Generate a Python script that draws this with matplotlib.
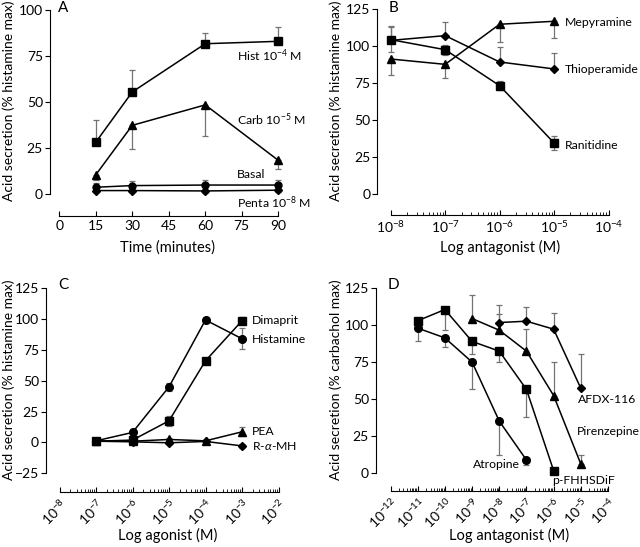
import numpy as np
import matplotlib
matplotlib.use("Agg")
import matplotlib.pyplot as plt
from matplotlib.ticker import LogLocator, NullFormatter

plt.rcParams['font.family'] = ['Lato', 'DejaVu Sans']
plt.rcParams['mathtext.fontset'] = 'custom'
plt.rcParams['mathtext.rm'] = 'Lato'
plt.rcParams['mathtext.it'] = 'Lato:italic'
plt.rcParams['font.size'] = 10

# ---- panel A: time course ----
time_min = [15, 30, 60, 90]
hist = [28.2, 55.5, 81.7, 83.0]
hist_err = [12, 12, 5.6, 7.6]
carb = [10.5, 37.4, 48.5, 18.4]
carb_err = [2.7, 13, 17, 4.5]
basal = [3.8, 4.7, 5.0, 5.0]
basal_err = [2.5, 2.5, 2.5, 2.5]
penta = [2.0, 2.0, 1.8, 2.2]
penta_err = [1, 1, 1, 1]

# ---- panel B: histamine + antagonists ----
conc_b = [1e-8, 1e-7, 1e-6, 1e-5]
mepyramine = [91.4, 87.8, 114.9, 116.9]
mepyramine_err = [10.8, 9.2, 12, 11.3]
thioperamide = [104.0, 107.2, 89.4, 84.7]
thioperamide_err = [10, 9, 10, 11]
ranitidine = [104.5, 97.7, 73.4, 34.7]
ranitidine_err = [8.6, 3.5, 3, 4.5]

# ---- panel C: agonists ----
conc_c = [1e-7, 1e-6, 1e-5, 1e-4, 1e-3]
histamine = [1.3, 8.1, 45.1, 99.3, 84.1]
histamine_err = [1, 3, 3, 1, 8.3]
dimaprit = [1.0, 1.9, 17.5, 66.2, 98.7]
dimaprit_err = [1, 2, 4, 2, 3]
pea = [1.0, 1.0, 2.4, 1.3, 8.6]
pea_err = [0.5, 0.5, 1, 1, 3.6]
rmh = [1.0, 0.5, -0.3, 0.8, -2.8]
rmh_err = [0.5, 0.5, 1, 1, 1.5]

# ---- panel D: carbachol + antagonists ----
conc_atropine = [1e-11, 1e-10, 1e-9, 1e-8, 1e-7]
atropine = [98.0, 91.4, 75.0, 35.0, 8.6]
atropine_err = [9, 6, 18, 23, 3.2]
conc_pfhhsdif = [1e-11, 1e-10, 1e-9, 1e-8, 1e-7, 1e-6]
pfhhsdif = [103.0, 110.6, 89.0, 82.4, 56.5, 1.4]
pfhhsdif_err = [0, 14, 8.6, 7.2, 18.5, 0]
conc_pirenzepine = [1e-9, 1e-8, 1e-7, 1e-6, 1e-5]
pirenzepine = [104.5, 96.6, 82.4, 52.3, 5.9]
pirenzepine_err = [16, 11, 15, 22.5, 6]
conc_afdx = [1e-8, 1e-7, 1e-6, 1e-5]
afdx = [101.8, 102.7, 97.3, 57.2]
afdx_err = [12, 9.5, 11, 23]

W, H = 640, 547
LABEL_FS = 8.8
fig = plt.figure(figsize=(W / 100, H / 100), dpi=100)


def panel(L, R, T, B):
    return fig.add_axes([L / W, 1 - B / H, (R - L) / W, (B - T) / H])


def series(ax, x, y, err, marker, ms, side='both'):
    err = np.asarray(err, dtype=float)
    lo = err if side in ('both', 'down') else np.zeros_like(err)
    hi = err if side in ('both', 'up') else np.zeros_like(err)
    ax.errorbar(x, y, yerr=[lo, hi], color='black', ecolor='0.45', marker=marker,
                ms=ms, lw=1.1, elinewidth=0.9, capsize=2.5, capthick=0.9,
                clip_on=False, zorder=3)


def style(ax, xlim, ylim, yticks, ybounds, offset, log=False):
    ax.set_xlim(xlim)
    ax.set_ylim(ylim)
    for s in ('top', 'right'):
        ax.spines[s].set_visible(False)
    ax.spines['left'].set_position(('outward', offset))
    ax.spines['left'].set_bounds(*ybounds)
    ax.spines['bottom'].set_bounds(*xlim)
    ax.set_yticks(yticks)
    ax.tick_params(axis='y', direction='out', length=3.6, width=0.8, pad=1.5, labelsize=10)
    ax.tick_params(axis='x', direction='in', length=3.6, width=0.8, pad=3, labelsize=10)
    ax.tick_params(axis='x', which='minor', direction='in', length=2, width=0.6)
    for s in ('left', 'bottom'):
        ax.spines[s].set_linewidth(0.8)
    ax.patch.set_visible(False)
    if log:
        ax.set_xscale('log')
        ax.xaxis.set_major_locator(LogLocator(base=10, numticks=20))
        ax.xaxis.set_minor_locator(LogLocator(base=10, subs=np.arange(2, 10), numticks=20))
        ax.xaxis.set_minor_formatter(NullFormatter())
        ax.set_xlim(xlim)


def label(ax, x, y, s):
    ax.text(x, y, s, va='center', fontsize=LABEL_FS)


# Panel A
axA = panel(59.2, 278.3, 10.0, 216.0)
style(axA, (0, 90), (-11.8, 100), [0, 25, 50, 75, 100], (0, 100), 6.6)
axA.set_xticks([0, 15, 30, 45, 60, 75, 90])
series(axA, time_min, hist, hist_err, 's', 5.5, 'up')
series(axA, time_min, carb, carb_err, '^', 6, 'down')
series(axA, time_min, basal, basal_err, 'o', 5, 'both')
series(axA, time_min, penta, penta_err, 'D', 4.5, 'both')
label(axA, 72.9, 75, 'Hist 10$^{-4}$ M')
label(axA, 72.9, 40.3, 'Carb 10$^{-5}$ M')
label(axA, 72.9, 10.5, 'Basal')
label(axA, 72.9, -4.6, 'Penta 10$^{-8}$ M')

# Panel B
axB = panel(390.7, 608.5, 9.3, 215.0)
style(axB, (1e-8, 1e-4), (-14, 125), [0, 25, 50, 75, 100, 125], (0, 125), 9.6, log=True)
series(axB, conc_b, mepyramine, mepyramine_err, '^', 6, 'down')
series(axB, conc_b, thioperamide, thioperamide_err, 'D', 4.5, 'up')
series(axB, conc_b, ranitidine, ranitidine_err, 's', 5.5, 'both')
label(axB, 1.58e-5, 116.4, 'Mepyramine')
label(axB, 1.58e-5, 84, 'Thioperamide')
label(axB, 1.58e-5, 33.3, 'Ranitidine')

# Panel C
axC = panel(59.5, 278.5, 288.3, 492.0)
style(axC, (1e-8, 1e-2), (-40.2, 125), [-25, 0, 25, 50, 75, 100, 125], (-25, 125), 9.7, log=True)
series(axC, conc_c, rmh, rmh_err, 'D', 4.5)
series(axC, conc_c, pea, pea_err, '^', 6)
series(axC, conc_c, dimaprit, dimaprit_err, 's', 5.5)
series(axC, conc_c, histamine, histamine_err, 'o', 5.5)
label(axC, 1.9e-3, 98.8, 'Dimaprit')
label(axC, 1.9e-3, 83.1, 'Histamine')
label(axC, 1.9e-3, 8.8, 'PEA')
label(axC, 1.9e-3, -2.6, 'R-$\\alpha$-MH')
plt.setp(axC.get_xticklabels(), rotation=45, ha='right', rotation_mode='anchor')

# Panel D
axD = panel(390.5, 608.0, 288.3, 491.0)
style(axD, (1e-12, 1e-4), (-12.4, 125), [0, 25, 50, 75, 100, 125], (0, 125), 10.4, log=True)
series(axD, conc_atropine, atropine, atropine_err, 'o', 5.5, 'down')
series(axD, conc_pfhhsdif, pfhhsdif, pfhhsdif_err, 's', 5.5, 'down')
series(axD, conc_pirenzepine, pirenzepine, pirenzepine_err, '^', 6, 'up')
series(axD, conc_afdx, afdx, afdx_err, 'D', 4.5, 'up')
label(axD, 10 ** -5.093, 49.8, 'AFDX-116')
label(axD, 10 ** -5.152, 27.8, 'Pirenzepine')
label(axD, 10 ** -8.955, 5.9, 'Atropine')
label(axD, 10 ** -6.049, -5.6, 'p-FHHSDiF')
plt.setp(axD.get_xticklabels(), rotation=45, ha='right', rotation_mode='anchor')


def ftext(x, y, s, **kw):
    fig.text(x / W, 1 - y / H, s, **kw)


# panel letters
ftext(63, 8, 'A', fontsize=11, ha='center', va='center')
ftext(393, 8, 'B', fontsize=11, ha='center', va='center')
ftext(63, 285, 'C', fontsize=11, ha='center', va='center')
ftext(393, 285, 'D', fontsize=11, ha='center', va='center')

# axis labels
ftext(168, 248, 'Time (minutes)', ha='center', va='center', fontsize=10.5)
ftext(500, 247, 'Log antagonist (M)', ha='center', va='center', fontsize=10.5)
ftext(168, 535, 'Log agonist (M)', ha='center', va='center', fontsize=10.5)
ftext(509, 535, 'Log antagonist (M)', ha='center', va='center', fontsize=10.5)
ftext(9, 101, 'Acid secretion (% histamine max)', rotation=90, ha='center', va='center', fontsize=10)
ftext(336, 101, 'Acid secretion (% histamine max)', rotation=90, ha='center', va='center', fontsize=10)
ftext(9, 380, 'Acid secretion (% histamine max)', rotation=90, ha='center', va='center', fontsize=10)
ftext(336, 380, 'Acid secretion (% carbachol max)', rotation=90, ha='center', va='center', fontsize=10)

fig.savefig('out.png', dpi=100)
